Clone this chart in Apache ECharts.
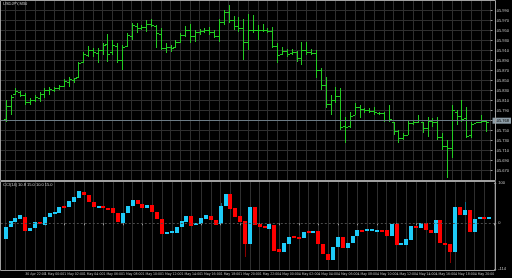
<!DOCTYPE html>
<html><head><meta charset="utf-8">
<script src="https://cdn.jsdelivr.net/npm/echarts@6/dist/echarts.min.js"></script>
<style>html,body{margin:0;padding:0;background:#000;}#c{width:512px;height:278px;}</style>
</head><body><div id="c"></div>
<script>
// ---- Main price panel (M30 bars) ----
const barOpen = [105.773,105.799,105.823,105.827,105.821,105.807,105.811,105.815,105.823,105.831,
105.831,105.835,105.839,105.847,105.851,105.857,105.887,105.901,105.911,105.905,
105.911,105.923,105.907,105.919,105.891,105.919,105.939,105.959,105.955,105.957,
105.963,105.959,105.943,105.915,105.917,105.917,105.927,105.941,105.951,105.939,
105.947,105.949,105.951,105.947,105.939,105.967,105.987,105.971,105.959,105.955,
105.927,105.951,105.951,105.951,105.951,105.949,105.919,105.903,105.909,105.905,
105.907,105.895,105.911,105.907,105.905,105.871,105.841,105.803,105.811,105.819,
105.759,105.759,105.781,105.797,105.793,105.791,105.789,105.785,105.785,105.771,
105.767,105.749,105.735,105.741,105.765,105.767,105.767,105.755,105.769,105.767,
105.737,105.719,105.715,105.787,105.779,105.775,105.741,105.765,105.767,105.769];
const barHigh = [105.811,105.821,105.835,105.829,105.825,105.815,105.821,105.827,105.835,105.837,
105.837,105.841,105.853,105.857,105.855,105.887,105.907,105.919,105.915,105.915,
105.925,105.943,105.931,105.925,105.921,105.945,105.965,105.965,105.961,105.971,
105.973,105.961,105.955,105.925,105.921,105.931,105.945,105.959,105.963,105.951,
105.953,105.955,105.957,105.951,105.973,105.991,106.001,105.979,105.977,105.973,
105.983,105.981,105.961,105.963,105.955,105.957,105.925,105.917,105.913,105.913,
105.909,105.927,105.927,105.913,105.911,105.875,105.857,105.821,105.837,105.835,
105.777,105.787,105.805,105.801,105.795,105.795,105.797,105.787,105.787,105.801,
105.767,105.751,105.745,105.771,105.771,105.781,105.767,105.777,105.775,105.777,
105.745,105.731,105.801,105.791,105.811,105.797,105.767,105.767,105.781,105.769];
const barLow = [105.767,105.781,105.821,105.817,105.801,105.801,105.807,105.807,105.815,105.821,
105.827,105.831,105.837,105.837,105.845,105.855,105.885,105.897,105.897,105.885,
105.901,105.887,105.901,105.885,105.871,105.917,105.931,105.945,105.951,105.947,
105.957,105.915,105.911,105.905,105.907,105.915,105.925,105.937,105.925,105.927,
105.941,105.945,105.941,105.935,105.927,105.961,105.965,105.951,105.947,105.891,
105.911,105.945,105.931,105.947,105.945,105.915,105.885,105.901,105.897,105.901,
105.887,105.881,105.901,105.901,105.855,105.831,105.795,105.781,105.805,105.751,
105.725,105.755,105.781,105.775,105.785,105.785,105.781,105.781,105.767,105.767,
105.741,105.725,105.731,105.741,105.761,105.765,105.745,105.737,105.757,105.731,
105.711,105.655,105.695,105.761,105.767,105.735,105.735,105.765,105.765,105.747];
const barClose = [105.799,105.817,105.829,105.821,105.807,105.811,105.817,105.823,105.831,105.833,
105.835,105.839,105.849,105.853,105.855,105.885,105.903,105.911,105.907,105.911,
105.921,105.903,105.921,105.891,105.917,105.941,105.961,105.955,105.957,105.963,
105.961,105.945,105.915,105.917,105.915,105.927,105.941,105.951,105.939,105.947,
105.949,105.951,105.947,105.939,105.967,105.987,105.971,105.959,105.955,105.927,
105.951,105.951,105.951,105.951,105.949,105.919,105.901,105.909,105.903,105.907,
105.895,105.911,105.907,105.905,105.871,105.841,105.803,105.811,105.819,105.757,
105.757,105.779,105.797,105.793,105.791,105.789,105.787,105.785,105.771,105.773,
105.749,105.735,105.741,105.765,105.767,105.771,105.755,105.769,105.767,105.737,
105.719,105.715,105.791,105.779,105.773,105.739,105.763,105.767,105.769,105.768];
const priceTicks = [105.990,105.970,105.950,105.930,105.910,105.890,105.870,105.850,105.830,
105.810,105.790,105.770,105.750,105.730,105.710,105.690,105.670];

// ---- Indicator panel (coloured oscillator candles) ----
const indOpen = [-40,-8.5,4,10,15,-18.5,-12.5,4,-4.3,15,
27,26.5,44,40,54,62.5,77.5,70.8,54,40,
43,39,39,25,1.5,25,43.3,58.3,48.3,37.5,
45.8,29,10,-26.8,-23.5,-23.5,-10,4,18.3,-4.3,
-1.8,11.5,18.3,8.3,-1.8,43.3,73.3,37.5,18.3,6.5,
-51.8,40,-2.5,-6,-14.3,-4.3,-65,-71,-51.8,-31.8,
-33.5,-37.5,-19.3,-25,-18.5,-51.8,-76.8,-91.8,-58.5,-33.5,
-61,-50,-31.8,-16.8,-19.3,-16.8,-19.3,-16.8,-16.8,-31,
-1.8,-54.3,-54.3,-41.8,-6.8,-12.5,0,-16.8,-23.5,8.3,
-50,-52.5,-71,40,20.8,33.3,-21,10,16.5,10];
const indClose = [-8.5,6.5,12.5,20.8,-18.5,-11,4,-2.5,16.5,26.5,
28,41.5,37.5,56.5,66.5,80.8,70.8,54,41.5,43,
40,35.8,25,2.5,25,43.3,58.3,48.3,37.5,45.8,
29,10,-26.8,-22.5,-18.5,-10,5.8,18.3,-6,0,
12.5,20,8.3,-4.3,43.3,73.3,35.8,16.5,4,-51.8,
40,-4.3,-8.5,-11,-2.5,-69.3,-71,-50,-33.5,-36,
-37.5,-21,-25,-19.3,-51.8,-76.8,-91.8,-58.5,-35,-61,
-48.5,-31,-16.8,-21,-15,-15,-16.8,-19.3,-31,-1.8,
-54.3,-50,-40,-6.8,-12.5,0,-16.8,-23.5,8.3,-50,
-54.3,-71,41.5,20.8,33.3,-21,10,15,10.8,15];
// wick extremes (null = no wick visible beyond the body)
const indHigh = [null,null,null,null,null,null,null,null,null,null,
null,null,null,null,null,null,null,null,null,null,
null,null,null,null,null,null,null,null,null,null,
null,null,null,null,null,null,null,null,null,null,
null,null,null,null,50.8,null,null,null,null,null,
null,null,null,null,null,null,null,null,null,null,
null,null,null,null,null,null,null,null,null,null,
null,null,null,null,null,null,null,null,null,null,
null,null,null,null,null,null,null,null,null,null,
null,null,null,null,54,null,null,null,null,null];
const indLow = [null,null,null,null,null,null,null,null,null,null,
null,null,null,null,null,null,null,null,null,null,
null,null,null,null,null,null,null,null,null,null,
null,null,null,null,null,null,null,null,null,null,
null,null,null,null,null,null,null,null,null,-84.3,
null,null,null,null,null,null,null,null,null,null,
null,null,null,null,null,null,null,null,null,null,
null,null,null,null,null,null,null,null,null,null,
null,null,null,null,null,null,null,null,null,null,
null,-99.3,null,null,null,null,null,null,null,null];
const indTicks = [100, 0, -114];

// ---- Time axis labels (one every 4 bars) ----
const timeLabels = ['30 Apr 20:00','30 Apr 22:00','1 May 00:00','1 May 02:00','1 May 04:00',
'1 May 06:00','1 May 08:00','1 May 10:00','1 May 12:00','1 May 14:00','1 May 16:00',
'1 May 18:00','1 May 20:00','1 May 22:00','4 May 00:00','4 May 02:00','4 May 04:00',
'4 May 06:00','4 May 08:00','4 May 10:00','4 May 12:00','4 May 14:00','4 May 16:00',
'4 May 18:00','4 May 20:00'];
const symbolTitle = 'USDJPY,M30';
const indTitle = 'CCI(14) 10.8 15.0 10.0 15.0';

// ---- build ----
const N = barOpen.length;
const cats = [];
for (let k = 0; k < N + 2; k++) cats.push('b' + (k - 1));
const isLabelIdx = (idx) => idx >= 1 && (idx - 1) % 4 === 0;
const isGridIdx = (idx) => idx >= 1 && (idx - 1) % 2 === 0;

const mainData = barOpen.map((o, i) => [i + 1, o, barHigh[i], barLow[i], barClose[i]]);
const indData = indOpen.map((o, i) => [i + 1, o, indClose[i],
  indHigh[i] == null ? Math.max(o, indClose[i]) : indHigh[i],
  indLow[i] == null ? Math.min(o, indClose[i]) : indLow[i]]);
const lastClose = barClose[N - 1];

const FONT = 'Liberation Sans';
const NARROW = '"Liberation Sans Narrow", "DejaVu Sans Condensed", "Liberation Sans"';
const GRID_C = '#2e2e2e';

function renderBar(params, api) {
  const k = api.value(0);
  const pO = api.coord([k, api.value(1)]);
  const pH = api.coord([k, api.value(2)]);
  const pL = api.coord([k, api.value(3)]);
  const pC = api.coord([k, api.value(4)]);
  const x = Math.round(pH[0]);
  const col = '#22cc22';
  const yH = Math.round(pH[1]), yL = Math.round(pL[1]);
  return {type: 'group', children: [
    {type: 'rect', shape: {x: x, y: yH, width: 1, height: Math.max(1, yL - yH)}, style: {fill: col}},
    {type: 'rect', shape: {x: x - 2, y: Math.round(pO[1]), width: 2, height: 1}, style: {fill: col}},
    {type: 'rect', shape: {x: x + 1, y: Math.round(pC[1]), width: 2, height: 1}, style: {fill: col}}
  ]};
}
function renderInd(params, api) {
  const k = api.value(0), o = api.value(1), c = api.value(2), h = api.value(3), l = api.value(4);
  const up = c >= o;
  const x = Math.round(api.coord([k, 0])[0]);
  const yO = api.coord([k, o])[1], yC = api.coord([k, c])[1];
  let top = Math.round(Math.min(yO, yC)), bot = Math.round(Math.max(yO, yC));
  if (bot - top < 2) bot = top + 2;
  const yH = Math.round(api.coord([k, h])[1]), yL = Math.round(api.coord([k, l])[1]);
  const body = up ? '#1ecbf8' : '#ff0000';
  const wick = up ? '#0d6f8c' : '#8c0000';
  const ch = [];
  if (yH < top) ch.push({type: 'rect', shape: {x: x, y: yH, width: 1, height: top - yH}, style: {fill: wick}});
  if (yL > bot) ch.push({type: 'rect', shape: {x: x, y: bot, width: 1, height: yL - bot}, style: {fill: wick}});
  ch.push({type: 'rect', shape: {x: x - 2, y: top, width: 4, height: bot - top}, style: {fill: body}});
  return {type: 'group', children: ch};
}

const chart = echarts.init(document.getElementById('c'), null, {renderer: 'canvas'});
chart.setOption({
  backgroundColor: '#000000',
  animation: false,
  textStyle: {fontFamily: FONT},
  grid: [
    {left: 0.815, right: 17.8, top: 0.5, height: 180, containLabel: false},
    {left: 0.815, right: 17.8, top: 181.5, height: 89, containLabel: false}
  ],
  xAxis: [
    {type: 'category', gridIndex: 0, data: cats, boundaryGap: false,
     axisLine: {show: false}, axisTick: {show: false}, axisLabel: {show: false},
     splitLine: {show: true, interval: (i) => isGridIdx(i), lineStyle: {color: GRID_C, width: 1}}},
    {type: 'category', gridIndex: 1, data: cats, boundaryGap: false,
     axisLine: {show: false},
     axisTick: {show: true, length: 2, interval: (i) => isLabelIdx(i), lineStyle: {color: '#9a9a9a'}},
     axisLabel: {show: true, interval: (i) => isLabelIdx(i), align: 'left', margin: 2,
       fontSize: 3.5, color: '#c0c0c0', fontFamily: NARROW,
       formatter: (v, idx) => timeLabels[(idx - 1) / 4] || ''},
     splitLine: {show: false}},
    {type: 'category', gridIndex: 1, data: cats, boundaryGap: false, position: 'top',
     axisLine: {show: false}, axisTick: {show: false}, axisLabel: {show: false},
     splitLine: {show: true, interval: (i) => isGridIdx(i), lineStyle: {color: GRID_C, width: 1}}}
  ],
  yAxis: [
    {type: 'value', gridIndex: 0, position: 'right', min: 105.6504, max: 106.0104, scale: true,
     axisLine: {show: false},
     axisTick: {show: true, length: 2, customValues: priceTicks, lineStyle: {color: '#9a9a9a'}},
     axisLabel: {show: true, customValues: priceTicks, margin: 4, fontSize: 4, color: '#c8c8c8',
       fontFamily: FONT, formatter: (v) => v.toFixed(3)},
     splitLine: {show: true, lineStyle: {color: GRID_C, width: 1}}},
    {type: 'value', gridIndex: 1, position: 'right', min: -118, max: 104.5,
     axisLine: {show: false},
     axisTick: {show: true, length: 2, customValues: indTicks, lineStyle: {color: '#9a9a9a'}},
     axisLabel: {show: true, customValues: indTicks, margin: 4, fontSize: 4, color: '#c8c8c8',
       fontFamily: FONT, formatter: (v) => String(v)},
     splitLine: {show: false}}
  ],
  series: [
    {type: 'custom', name: 'price', xAxisIndex: 0, yAxisIndex: 0, data: mainData,
     encode: {x: 0, y: [1, 2, 3, 4]}, renderItem: renderBar, silent: true,
     markLine: {silent: true, symbol: ['none', 'none'],
       lineStyle: {color: '#6b7b85', type: 'solid', width: 1},
       label: {show: true, position: 'end', distance: 2, fontSize: 4, color: '#000',
         backgroundColor: '#8e9ea8', padding: [1, 2, 1, 2], fontFamily: FONT,
         formatter: () => lastClose.toFixed(3)},
       data: [{yAxis: lastClose}]}},
    {type: 'custom', name: 'osc', xAxisIndex: 1, yAxisIndex: 1, data: indData,
     encode: {x: 0, y: [1, 2, 3, 4]}, renderItem: renderInd, silent: true,
     markLine: {silent: true, symbol: ['none', 'none'],
       lineStyle: {color: '#4a4a4a', type: [2, 2], width: 1},
       label: {show: false}, data: [{yAxis: 0}]}}
  ],
  graphic: [
    {type: 'rect', silent: true, z: 100, shape: {x: 0.5, y: 0.5, width: 495, height: 180},
     style: {fill: 'none', stroke: '#a0a0a0', lineWidth: 1}},
    {type: 'rect', silent: true, z: 100, shape: {x: 0.5, y: 181.5, width: 495, height: 89},
     style: {fill: 'none', stroke: '#a0a0a0', lineWidth: 1}},
    {type: 'text', silent: true, z: 100, left: 3, top: 2,
     style: {text: symbolTitle, fill: '#d0d0d0', fontSize: 4, fontFamily: FONT}},
    {type: 'text', silent: true, z: 100, left: 3, top: 183,
     style: {text: indTitle, fill: '#d0d0d0', fontSize: 4, fontFamily: FONT}}
  ]
});
</script>
</body></html>
